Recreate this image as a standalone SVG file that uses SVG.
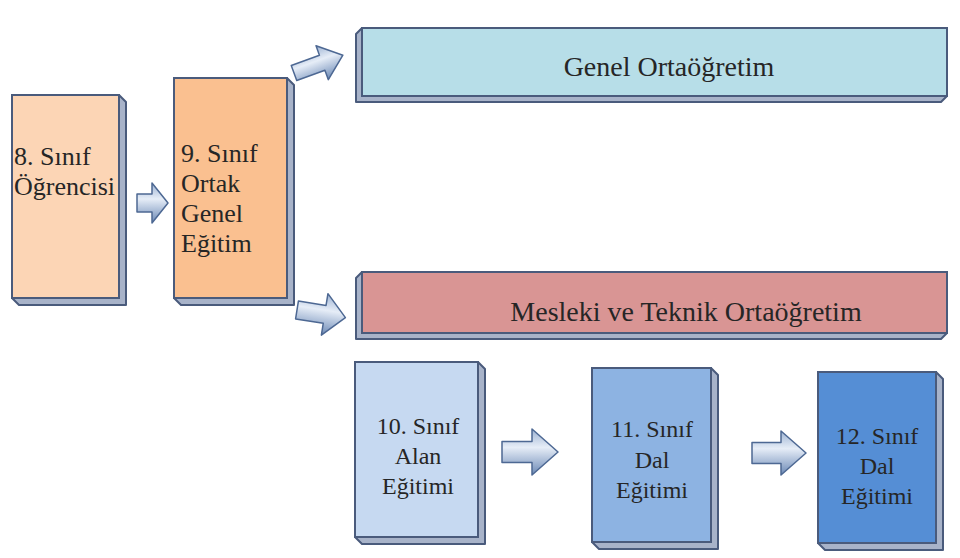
<svg xmlns="http://www.w3.org/2000/svg" width="960" height="558" viewBox="0 0 960 558">
<defs>
<linearGradient id="ag" x1="0" y1="0" x2="0" y2="1">
<stop offset="0" stop-color="#9DB3D3"/>
<stop offset="0.4" stop-color="#E6EDF7"/>
<stop offset="1" stop-color="#6A88B5"/>
</linearGradient>
</defs>
<rect width="960" height="558" fill="#FFFFFF"/>

<g id="node-8">
<polygon points="119,95 126,102 126,305 19,305 12,298 119,298" fill="#A8B3C9" stroke="#4A5B7C" stroke-width="2" stroke-linejoin="round"/>
<rect x="12" y="95" width="107" height="203" fill="#FCD5B5" stroke="#4A5B7C" stroke-width="2"/>
<text x="14" y="165" font-family="Liberation Serif" style="font-family:Liberation Serif" font-size="26" fill="#262626">8. Sınıf</text>
<text x="14" y="195" font-family="Liberation Serif" style="font-family:Liberation Serif" font-size="26" fill="#262626">Öğrencisi</text>
</g>

<g id="node-9">
<polygon points="287,78 294,85 294,305 181,305 174,298 287,298" fill="#A8B3C9" stroke="#4A5B7C" stroke-width="2" stroke-linejoin="round"/>
<rect x="174" y="78" width="113" height="220" fill="#FAC090" stroke="#4A5B7C" stroke-width="2"/>
<text x="181" y="162" font-family="Liberation Serif" style="font-family:Liberation Serif" font-size="26" fill="#262626">9. Sınıf</text>
<text x="181" y="192" font-family="Liberation Serif" style="font-family:Liberation Serif" font-size="26" fill="#262626">Ortak</text>
<text x="181" y="222" font-family="Liberation Serif" style="font-family:Liberation Serif" font-size="26" fill="#262626">Genel</text>
<text x="181" y="252" font-family="Liberation Serif" style="font-family:Liberation Serif" font-size="26" fill="#262626">Eğitim</text>
</g>

<g id="node-genel">
<polygon points="362,28 356,34 356,102 941,102 947,96 362,96" fill="#A8B3C9" stroke="#4A5B7C" stroke-width="2" stroke-linejoin="round"/>
<rect x="362" y="28" width="585" height="68" fill="#B7DEE8" stroke="#4A5B7C" stroke-width="2"/>
<text x="669" y="76" font-family="Liberation Serif" style="font-family:Liberation Serif" font-size="28" fill="#262626" text-anchor="middle">Genel Ortaöğretim</text>
</g>

<g id="node-mesleki">
<polygon points="362,272 356,278 356,339 941,339 947,333 362,333" fill="#A8B3C9" stroke="#4A5B7C" stroke-width="2" stroke-linejoin="round"/>
<rect x="362" y="272" width="585" height="61" fill="#D99594" stroke="#4A5B7C" stroke-width="2"/>
<text x="686" y="321" font-family="Liberation Serif" style="font-family:Liberation Serif" font-size="28" fill="#262626" text-anchor="middle">Mesleki ve Teknik Ortaöğretim</text>
</g>

<g id="node-10">
<polygon points="478,362 485,369 485,544 362,544 355,537 478,537" fill="#A8B3C9" stroke="#4A5B7C" stroke-width="2" stroke-linejoin="round"/>
<rect x="355" y="362" width="123" height="175" fill="#C6D9F1" stroke="#4A5B7C" stroke-width="2"/>
<text x="418" y="434" font-family="Liberation Serif" style="font-family:Liberation Serif" font-size="24" fill="#262626" text-anchor="middle">10. Sınıf</text>
<text x="418" y="464" font-family="Liberation Serif" style="font-family:Liberation Serif" font-size="24" fill="#262626" text-anchor="middle">Alan</text>
<text x="418" y="494" font-family="Liberation Serif" style="font-family:Liberation Serif" font-size="24" fill="#262626" text-anchor="middle">Eğitimi</text>
</g>

<g id="node-11">
<polygon points="711,368 718,375 718,549 599,549 592,542 711,542" fill="#A8B3C9" stroke="#4A5B7C" stroke-width="2" stroke-linejoin="round"/>
<rect x="592" y="368" width="119" height="174" fill="#8DB3E2" stroke="#4A5B7C" stroke-width="2"/>
<text x="652" y="437" font-family="Liberation Serif" style="font-family:Liberation Serif" font-size="24" fill="#262626" text-anchor="middle">11. Sınıf</text>
<text x="652" y="468" font-family="Liberation Serif" style="font-family:Liberation Serif" font-size="24" fill="#262626" text-anchor="middle">Dal</text>
<text x="652" y="498" font-family="Liberation Serif" style="font-family:Liberation Serif" font-size="24" fill="#262626" text-anchor="middle">Eğitimi</text>
</g>

<g id="node-12">
<polygon points="936,372 943,379 943,550 825,550 818,543 936,543" fill="#A8B3C9" stroke="#4A5B7C" stroke-width="2" stroke-linejoin="round"/>
<rect x="818" y="372" width="118" height="171" fill="#558ED5" stroke="#4A5B7C" stroke-width="2"/>
<text x="877" y="444" font-family="Liberation Serif" style="font-family:Liberation Serif" font-size="24" fill="#262626" text-anchor="middle">12. Sınıf</text>
<text x="877" y="474" font-family="Liberation Serif" style="font-family:Liberation Serif" font-size="24" fill="#262626" text-anchor="middle">Dal</text>
<text x="877" y="504" font-family="Liberation Serif" style="font-family:Liberation Serif" font-size="24" fill="#262626" text-anchor="middle">Eğitimi</text>
</g>

<g id="connectors" fill="url(#ag)" stroke="#4D6893" stroke-width="1.5" stroke-linejoin="round">
<path transform="translate(137,203)" d="M0,-9 H15 V-20 L31,0 L15,20 V9 H0 Z"/>
<path transform="translate(294,73) rotate(-20)" d="M0,-8 H30 V-18 L52,0 L30,18 V8 H0 Z"/>
<path transform="translate(297,310) rotate(9)" d="M0,-9 H28 V-21 L49,0 L28,21 V9 H0 Z"/>
<path transform="translate(502,452)" d="M0,-10.5 H30 V-23 L56,0 L30,23 V10.5 H0 Z"/>
<path transform="translate(752,453)" d="M0,-10.5 H29 V-22 L54,0 L29,22 V10.5 H0 Z"/>
</g>
</svg>
